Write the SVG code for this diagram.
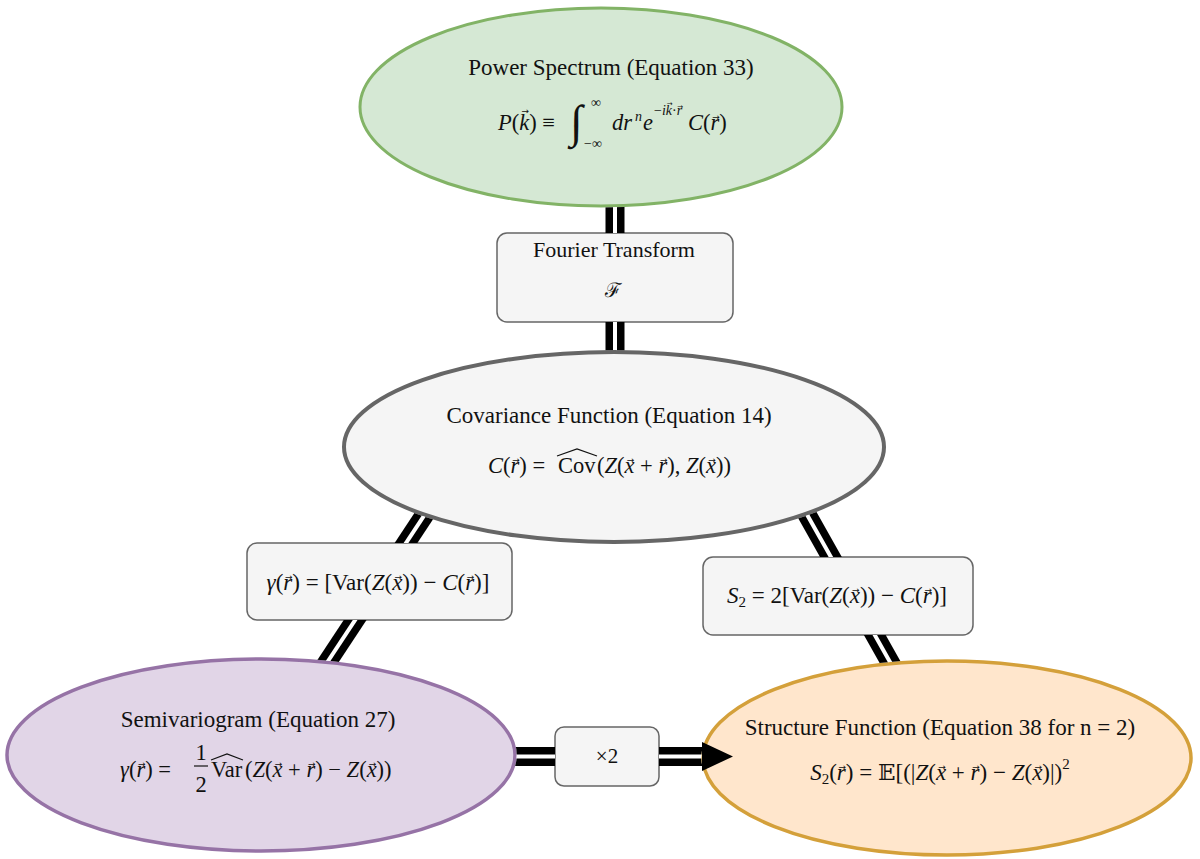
<svg xmlns="http://www.w3.org/2000/svg" width="1200" height="859" viewBox="0 0 1200 859">
<style>
.title{font-family:"Liberation Serif","Times New Roman",serif;font-size:23px;fill:#111;}
.m{font-family:"Liberation Serif","Times New Roman",serif;font-size:21px;fill:#111;}
.s22{font-size:22.5px;}
.s23{font-size:23px;}
.i{font-style:italic;}
.sm{font-size:14px;}
.sub{font-size:15px;}
.va{font-family:"DejaVu Sans",sans-serif;font-size:9px;font-style:normal;}
.vb{font-family:"DejaVu Sans",sans-serif;font-size:7px;font-style:normal;}
.box{fill:#f5f5f5;stroke:#666666;stroke-width:1.5;}
.dbl-o{fill:none;stroke:#000;stroke-width:19;}
.dbl-i{fill:none;stroke:#fff;stroke-width:4;}
.hat{fill:none;stroke:#111;stroke-width:1.2;}
</style>
<defs>
<mask id="cut" maskUnits="userSpaceOnUse" x="0" y="0" width="1200" height="859">
<rect x="0" y="0" width="1200" height="859" fill="#fff"/>
<ellipse cx="601" cy="107" rx="241" ry="99" fill="#000" stroke="#000" stroke-width="3"/>
<ellipse cx="614" cy="447" rx="270" ry="95" fill="#000" stroke="#000" stroke-width="4"/>
<ellipse cx="261" cy="755" rx="254" ry="96" fill="#000" stroke="#000" stroke-width="3.5"/>
<ellipse cx="947" cy="758" rx="244" ry="97" fill="#000" stroke="#000" stroke-width="3.5"/>
<rect x="497" y="233" width="236" height="89" fill="#000"/>
<rect x="247" y="543" width="265" height="77" fill="#000"/>
<rect x="703" y="557" width="270" height="78" fill="#000"/>
<rect x="555" y="727" width="104" height="59" fill="#000"/>
</mask>
</defs>
<rect x="0" y="0" width="1200" height="859" fill="#ffffff"/>

<g id="power-spectrum">
<ellipse cx="601" cy="107" rx="241" ry="99" fill="#d5e8d4" stroke="#82b366" stroke-width="3"/>
<text class="title" x="611" y="75" text-anchor="middle">Power Spectrum (Equation 33)</text>
<text class="m s22" x="498" y="130"><tspan class="i">P</tspan>(<tspan class="i">k</tspan><tspan class="va" dx="-7.8" dy="-16">→</tspan><tspan dx="0.2" dy="16">) ≡</tspan></text>
<text class="m" x="570" y="137" style="font-size:46px">∫</text>
<text class="m sm" x="591" y="107">∞</text>
<text class="m sm" x="584" y="148">−∞</text>
<text class="m s22" x="612" y="130"><tspan class="i">dr</tspan></text>
<text class="m sm i" x="635" y="121">n</text>
<text class="m s22 i" x="643" y="130">e</text>
<text class="m sm" x="654" y="115">−<tspan class="i">ik</tspan><tspan class="vb" dx="-5.3" dy="-9">→</tspan><tspan dx="-0.5" dy="9">·</tspan><tspan class="i">r</tspan><tspan class="vb" dx="-4.9" dy="-6.5">→</tspan></text>
<text class="m s22" x="688" y="130"><tspan class="i">C</tspan>(<tspan class="i">r</tspan><tspan class="va" dx="-7.15" dy="-10">→</tspan><tspan dx="-0.4" dy="10">)</tspan></text>
</g>

<g id="fourier-transform">
<rect class="box" x="497" y="233" width="236" height="89" rx="10" ry="10"/>
<text class="title" x="614" y="257" text-anchor="middle" style="font-size:22px">Fourier Transform</text>
<text x="613" y="297" text-anchor="middle" font-family="DejaVu Serif, serif" font-size="20" fill="#111">ℱ</text>
</g>

<g id="covariance-function">
<ellipse cx="614" cy="447" rx="270" ry="95" fill="#f5f5f5" stroke="#666666" stroke-width="4"/>
<text class="title" x="609" y="423" text-anchor="middle">Covariance Function (Equation 14)</text>
<text class="m s22" x="488" y="473"><tspan class="i">C</tspan>(<tspan class="i">r</tspan><tspan class="va" dx="-7.15" dy="-10">→</tspan><tspan dx="-0.4" dy="10">) =</tspan></text>
<text class="m s22" x="558" y="473">Cov</text>
<path class="hat" d="M557 456 L577 449 L597 456"/>
<text class="m s22" x="597" y="473">(<tspan class="i">Z</tspan>(<tspan class="i">x</tspan><tspan class="va" dx="-7.8" dy="-10">→</tspan><tspan dx="0.2" dy="10"> + </tspan><tspan class="i">r</tspan><tspan class="va" dx="-7.15" dy="-10">→</tspan><tspan dx="-0.4" dy="10">), </tspan><tspan class="i">Z</tspan>(<tspan class="i">x</tspan><tspan class="va" dx="-7.8" dy="-10">→</tspan><tspan dx="0.2" dy="10">))</tspan></text>
</g>

<g id="semivariogram-label">
<rect class="box" x="247" y="543" width="265" height="77" rx="10" ry="10"/>
<text class="m s23" x="378" y="590" text-anchor="middle"><tspan class="i">γ</tspan>(<tspan class="i">r</tspan><tspan class="va" dx="-7.25" dy="-10.3">→</tspan><tspan dx="-0.3" dy="10.3">) = [Var(</tspan><tspan class="i">Z</tspan>(<tspan class="i">x</tspan><tspan class="va" dx="-7.9" dy="-10.3">→</tspan><tspan dx="0.35" dy="10.3">)) − </tspan><tspan class="i">C</tspan>(<tspan class="i">r</tspan><tspan class="va" dx="-7.25" dy="-10.3">→</tspan><tspan dx="-0.3" dy="10.3">)]</tspan></text>
</g>

<g id="structure-label">
<rect class="box" x="703" y="557" width="270" height="78" rx="10" ry="10"/>
<text class="m s23" x="837" y="603" text-anchor="middle"><tspan class="i">S</tspan><tspan class="sub" dy="4">2</tspan><tspan dy="-4"> = 2[Var(</tspan><tspan class="i">Z</tspan>(<tspan class="i">x</tspan><tspan class="va" dx="-7.9" dy="-10.3">→</tspan><tspan dx="0.35" dy="10.3">)) − </tspan><tspan class="i">C</tspan>(<tspan class="i">r</tspan><tspan class="va" dx="-7.25" dy="-10.3">→</tspan><tspan dx="-0.3" dy="10.3">)]</tspan></text>
</g>

<g id="semivariogram">
<ellipse cx="261" cy="755" rx="254" ry="96" fill="#e1d5e7" stroke="#9673a6" stroke-width="3.5"/>
<text class="title" x="258" y="727" text-anchor="middle">Semivariogram (Equation 27)</text>
<text class="m s22" x="120" y="777"><tspan class="i">γ</tspan>(<tspan class="i">r</tspan><tspan class="va" dx="-7.15" dy="-10">→</tspan><tspan dx="-0.4" dy="10">) =</tspan></text>
<text class="m s22" x="201" y="760" text-anchor="middle">1</text>
<line x1="194" y1="766" x2="208" y2="766" stroke="#111" stroke-width="1.2"/>
<text class="m s22" x="201" y="792" text-anchor="middle">2</text>
<text class="m s22" x="211" y="777">Var</text>
<path class="hat" d="M211 760 L227 754 L243 760"/>
<text class="m s22" x="245" y="777">(<tspan class="i">Z</tspan>(<tspan class="i">x</tspan><tspan class="va" dx="-7.8" dy="-10">→</tspan><tspan dx="0.2" dy="10"> + </tspan><tspan class="i">r</tspan><tspan class="va" dx="-7.15" dy="-10">→</tspan><tspan dx="-0.4" dy="10">) − </tspan><tspan class="i">Z</tspan>(<tspan class="i">x</tspan><tspan class="va" dx="-7.8" dy="-10">→</tspan><tspan dx="0.2" dy="10">))</tspan></text>
</g>

<g id="times-two">
<rect class="box" x="555" y="727" width="104" height="59" rx="9" ry="9"/>
<text class="m" x="607" y="763" text-anchor="middle">×2</text>
</g>

<g id="structure-function">
<ellipse cx="947" cy="758" rx="244" ry="97" fill="#ffe6cc" stroke="#d4a03a" stroke-width="3.5"/>
<text class="title" x="940" y="735" text-anchor="middle">Structure Function (Equation 38 for n = 2)</text>
<text class="m s23" x="940" y="780" text-anchor="middle"><tspan class="i">S</tspan><tspan class="sub" dy="4">2</tspan><tspan dy="-4">(</tspan><tspan class="i">r</tspan><tspan class="va" dx="-7.25" dy="-10.3">→</tspan><tspan dx="-0.3" dy="10.3">) = </tspan><tspan font-family="DejaVu Serif, serif">𝔼</tspan>[(|<tspan class="i">Z</tspan>(<tspan class="i">x</tspan><tspan class="va" dx="-7.9" dy="-10.3">→</tspan><tspan dx="0.35" dy="10.3"> + </tspan><tspan class="i">r</tspan><tspan class="va" dx="-7.25" dy="-10.3">→</tspan><tspan dx="-0.3" dy="10.3">) − </tspan><tspan class="i">Z</tspan>(<tspan class="i">x</tspan><tspan class="va" dx="-7.9" dy="-10.3">→</tspan><tspan dx="0.35" dy="10.3">)|)</tspan><tspan class="sub" dy="-11">2</tspan></text>
</g>

<g id="connectors">
<g mask="url(#cut)">
<path class="dbl-o" d="M615 107 L615 447"/>
<path class="dbl-i" d="M615 107 L615 447"/>
<path class="dbl-o" d="M469.4 447 L266 755"/>
<path class="dbl-i" d="M469.4 447 L266 755"/>
<path class="dbl-o" d="M769 447 L944 758"/>
<path class="dbl-i" d="M769 447 L944 758"/>
<path class="dbl-o" d="M261 756.5 L703 756.5"/>
<path class="dbl-i" d="M261 756.5 L703 756.5"/>
</g>
<polygon points="702,742 733,756.5 702,771" fill="#000"/>
</g>
</svg>
